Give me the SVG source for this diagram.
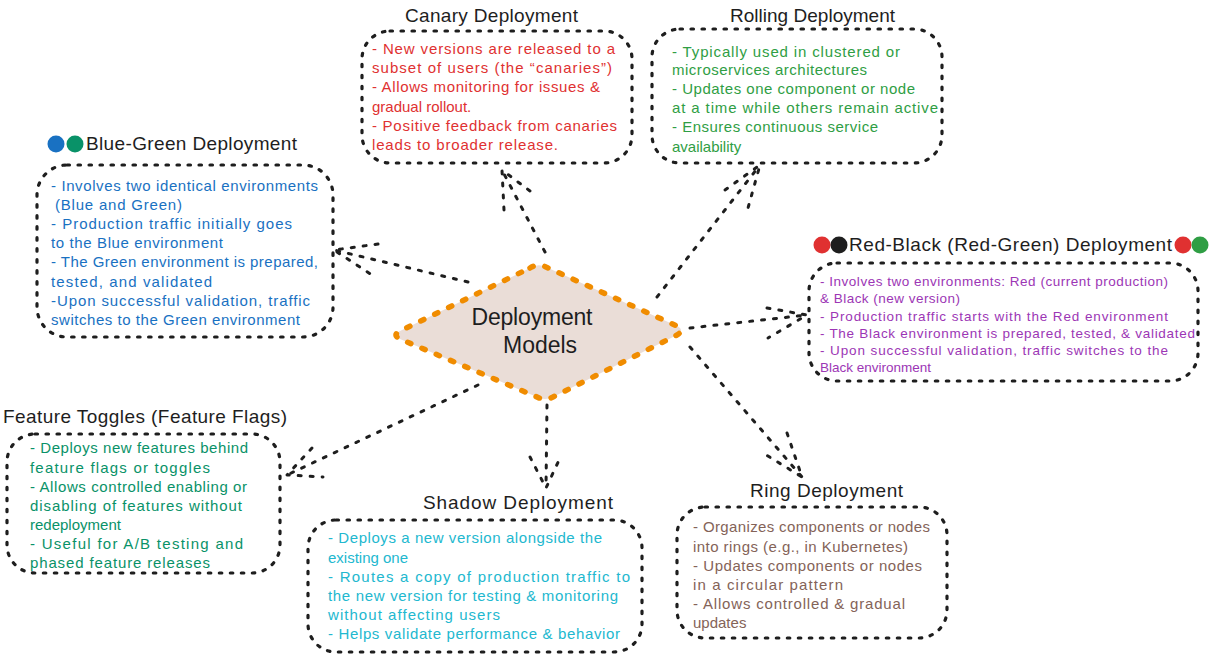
<svg xmlns="http://www.w3.org/2000/svg" width="1213" height="661" viewBox="0 0 1213 661">
<style>
.box{fill:none;stroke:#1e1e1e;stroke-width:3.2;stroke-dasharray:2.5 8.5;stroke-linecap:round}
.con{fill:none;stroke:#1e1e1e;stroke-width:3;stroke-dasharray:3 9;stroke-linecap:round;stroke-linejoin:round}
.title{font-family:"Liberation Sans",Arial,sans-serif;font-size:19px;fill:#1e1e1e}
.t{font-family:"Liberation Sans",Arial,sans-serif;font-size:15px}
.ts{font-family:"Liberation Sans",Arial,sans-serif;font-size:13.5px}
.red{fill:#e03131}.grn{fill:#2f9e44}.blu{fill:#1971c2}.pur{fill:#9c36b5}.teal{fill:#099268}.cyan{fill:#22b8cf}.brn{fill:#846358}
</style>
<rect width="1213" height="661" fill="#ffffff"/>

<g id="connectors">
<path class="con" d="M468,282 L334,250"/><path class="con" d="M378,244 L334,250 L372,275"/>
<path class="con" d="M545,252 L502,170"/><path class="con" d="M504,210 L502,170 L534,194"/>
<path class="con" d="M657,297 L760,165"/><path class="con" d="M725,190 L760,165 L748,208"/>
<path class="con" d="M690,328 L807,315"/><path class="con" d="M767,308 L807,315 L768,338"/>
<path class="con" d="M690,347 L802,477"/><path class="con" d="M787,433 L802,477 L763,453"/>
<path class="con" d="M547,405 L546,488"/><path class="con" d="M530,457 L546,488 L560,458"/>
<path class="con" d="M478,385 L287,475"/><path class="con" d="M312,448 L287,475 L323,477"/>
</g>

<g id="center">
<path d="M530,268 Q538,263 546,267 L677,326 Q685,330 677,335 L553,397 Q545,401 537,397 L400,339 Q392,335 400,331 Z" fill="#eaddd7" stroke="#f08c00" stroke-width="5.5" stroke-dasharray="3.5 12" stroke-linecap="round"/>
<text x="532" y="325" text-anchor="middle" font-family="Liberation Sans,Arial,sans-serif" font-size="23" fill="#1e1e1e" textLength="121">Deployment</text>
<text x="540" y="353" text-anchor="middle" font-family="Liberation Sans,Arial,sans-serif" font-size="23" fill="#1e1e1e" textLength="74">Models</text>
</g>

<g id="canary">
<text class="title" x="405" y="22" textLength="173">Canary Deployment</text>
<rect class="box" x="362" y="31" width="270" height="132" rx="28"/>
<g class="t red">
<text x="372" y="54" textLength="243">- New versions are released to a</text>
<text x="372" y="73" textLength="240">subset of users (the “canaries”)</text>
<text x="372" y="92" textLength="228">- Allows monitoring for issues &amp;</text>
<text x="372" y="112">gradual rollout.</text>
<text x="372" y="131" textLength="245">- Positive feedback from canaries</text>
<text x="372" y="150" textLength="186">leads to broader release.</text>
</g>
</g>

<g id="rolling">
<text class="title" x="730" y="22" textLength="165">Rolling Deployment</text>
<rect class="box" x="652" y="29" width="290" height="134" rx="28"/>
<g class="t grn">
<text x="672" y="57" textLength="228">- Typically used in clustered or</text>
<text x="672" y="75" textLength="195">microservices architectures</text>
<text x="672" y="94" textLength="243">- Updates one component or node</text>
<text x="672" y="113" textLength="266">at a time while others remain active</text>
<text x="672" y="132" textLength="206">- Ensures continuous service</text>
<text x="672" y="152">availability</text>
</g>
</g>

<g id="blue-green">
<circle cx="56" cy="144" r="8.5" fill="#1971c2"/>
<circle cx="75" cy="144" r="8.5" fill="#099268"/>
<text class="title" x="86" y="150" textLength="211">Blue-Green Deployment</text>
<rect class="box" x="37" y="165" width="296" height="172" rx="30"/>
<g class="t blu">
<text x="51" y="191" textLength="267">- Involves two identical environments</text>
<text x="55" y="210" textLength="127">(Blue and Green)</text>
<text x="51" y="229" textLength="241">- Production traffic initially goes</text>
<text x="51" y="248" textLength="172">to the Blue environment</text>
<text x="51" y="267" textLength="267">- The Green environment is prepared,</text>
<text x="51" y="287" textLength="161">tested, and validated</text>
<text x="51" y="306" textLength="259">-Upon successful validation, traffic</text>
<text x="51" y="325" textLength="249">switches to the Green environment</text>
</g>
</g>

<g id="red-black">
<circle cx="822" cy="245" r="8.5" fill="#e03131"/>
<circle cx="839" cy="245" r="8.5" fill="#1e1e1e"/>
<text class="title" x="849" y="251" textLength="323">Red-Black (Red-Green) Deployment</text>
<circle cx="1183" cy="245" r="8.5" fill="#e03131"/>
<circle cx="1200" cy="245" r="8.5" fill="#2f9e44"/>
<rect class="box" x="809" y="263" width="389" height="118" rx="28"/>
<g class="ts pur">
<text x="820" y="286" textLength="348">- Involves two environments: Red (current production)</text>
<text x="820" y="303" textLength="140">&amp; Black (new version)</text>
<text x="820" y="321" textLength="348">- Production traffic starts with the Red environment</text>
<text x="820" y="338" textLength="375">- The Black environment is prepared, tested, &amp; validated</text>
<text x="820" y="355" textLength="348">- Upon successful validation, traffic switches to the</text>
<text x="820" y="372">Black environment</text>
</g>
</g>

<g id="feature-toggles">
<text class="title" x="3" y="423" textLength="284">Feature Toggles (Feature Flags)</text>
<rect class="box" x="7" y="434" width="273" height="139" rx="28"/>
<g class="t teal">
<text x="30" y="453" textLength="218">- Deploys new features behind</text>
<text x="30" y="473" textLength="180">feature flags or toggles</text>
<text x="30" y="492" textLength="217">- Allows controlled enabling or</text>
<text x="30" y="511" textLength="212">disabling of features without</text>
<text x="30" y="530">redeployment</text>
<text x="30" y="549" textLength="213">- Useful for A/B testing and</text>
<text x="30" y="568" textLength="180">phased feature releases</text>
</g>
</g>

<g id="shadow">
<text class="title" x="423" y="509" textLength="190">Shadow Deployment</text>
<rect class="box" x="308" y="520" width="334" height="132" rx="28"/>
<g class="t cyan">
<text x="328" y="543" textLength="274">- Deploys a new version alongside the</text>
<text x="328" y="563">existing one</text>
<text x="328" y="582" textLength="302">- Routes a copy of production traffic to</text>
<text x="328" y="601" textLength="290">the new version for testing &amp; monitoring</text>
<text x="328" y="620" textLength="172">without affecting users</text>
<text x="328" y="639" textLength="292">- Helps validate performance &amp; behavior</text>
</g>
</g>

<g id="ring">
<text class="title" x="750" y="497" textLength="153">Ring Deployment</text>
<rect class="box" x="677" y="507" width="270" height="131" rx="28"/>
<g class="t brn">
<text x="693" y="532" textLength="237">- Organizes components or nodes</text>
<text x="693" y="552" textLength="215">into rings (e.g., in Kubernetes)</text>
<text x="693" y="571" textLength="229">- Updates components or nodes</text>
<text x="693" y="590" textLength="150">in a circular pattern</text>
<text x="693" y="609" textLength="212">- Allows controlled &amp; gradual</text>
<text x="693" y="628">updates</text>
</g>
</g>
</svg>
